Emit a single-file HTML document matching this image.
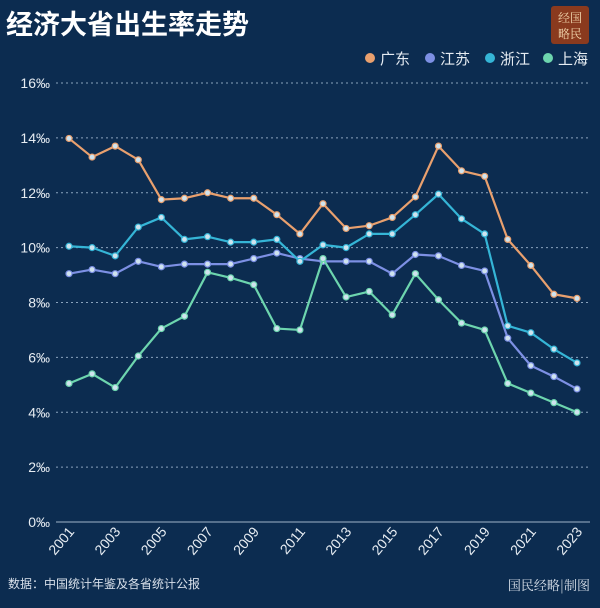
<!DOCTYPE html>
<html><head><meta charset="utf-8"><style>
body{margin:0;width:600px;height:608px;background:#0c2c50;overflow:hidden;font-family:"Liberation Sans","Noto Sans CJK SC",sans-serif;}
</style></head><body>
<svg id="c" width="600" height="608" style="position:absolute;left:0;top:0">
<text x="6" y="34" fill="#fff" font-size="27" font-weight="bold" font-family="Liberation Sans,Noto Sans CJK SC,sans-serif">经济大省出生率走势</text>
<g><rect x="551" y="6" width="38" height="38" rx="3" fill="#8a3a1e"/>
<text x="570" y="22" fill="#f3d9b0" font-size="12" text-anchor="middle" font-family="Noto Serif CJK SC,serif">经国</text>
<text x="570" y="38" fill="#f3d9b0" font-size="12" text-anchor="middle" font-family="Noto Serif CJK SC,serif">略民</text></g>
<g id="legend"></g>
<g id="grid"></g><g id="series"></g><g id="xaxis"></g>
<text x="8" y="588" fill="#d8e0ea" font-size="12">数据：中国统计年鉴及各省统计公报</text>
<text x="590" y="590" fill="#d8e0ea" font-size="13" text-anchor="end" font-family="Noto Serif CJK SC,serif">国民经略|制图</text>
</svg>
<script>
const years=[2001,2002,2003,2004,2005,2006,2007,2008,2009,2010,2011,2012,2013,2014,2015,2016,2017,2018,2019,2020,2021,2022,2023];
const guangdong=[13.98,13.3,13.7,13.2,11.75,11.8,12.0,11.8,11.8,11.2,10.5,11.6,10.7,10.8,11.1,11.85,13.7,12.8,12.6,10.3,9.35,8.3,8.15];
const jiangsu=[9.05,9.2,9.05,9.5,9.3,9.4,9.4,9.4,9.6,9.8,9.6,9.5,9.5,9.5,9.05,9.75,9.7,9.35,9.15,6.7,5.7,5.3,4.85];
const zhejiang=[10.05,10.0,9.7,10.75,11.1,10.3,10.4,10.2,10.2,10.3,9.5,10.1,10.0,10.5,10.5,11.2,11.95,11.05,10.5,7.15,6.9,6.3,5.8];
const shanghai=[5.05,5.4,4.9,6.05,7.05,7.5,9.1,8.9,8.65,7.05,7.0,9.6,8.2,8.4,7.55,9.05,8.1,7.25,7.0,5.05,4.7,4.35,4.0];
const yTicks=[0,2,4,6,8,10,12,14,16];
const seriesNames=["广东","江苏","浙江","上海"];
const colors=["#e9a06e","#7d90e4","#35b5d6","#6dd5ae"];
const NS="http://www.w3.org/2000/svg";
const x=y=>69+(y-2001)*(577-69)/22;
const yv=v=>522-v*(522-83)/16;
function mk(t,a,p){const e=document.createElementNS(NS,t);for(const k in a)e.setAttribute(k,a[k]);p.appendChild(e);return e;}
const grid=document.getElementById('grid');
yTicks.forEach(t=>{
 const l=mk('line',{x1:56,x2:590,y1:yv(t),y2:yv(t),stroke:t===0?'#9fb3c8':'#8aa3bd','stroke-width':1,'stroke-dasharray':t===0?'':'2 3'},grid);
 
 
 const tx=mk('text',{x:50,y:yv(t)+5,fill:'#e6ecf2','font-size':14,'text-anchor':'end'},grid);
 tx.textContent=t+'‰';
 
 
});
const xa=document.getElementById('xaxis');
years.forEach(yr=>{
 if(yr%2===0)return;
 const tx=mk('text',{x:x(yr)+6,y:532,fill:'#e6ecf2','font-size':14,'text-anchor':'end',transform:`rotate(-50 ${x(yr)+6} 532)`},xa);
 tx.textContent=yr;
 
 
});
const data=[guangdong,jiangsu,zhejiang,shanghai];
const sg=document.getElementById('series');
data.forEach((d,i)=>{
 const g=mk('g',{},sg);
 
 
 const pts=d.map((v,j)=>x(years[j])+','+yv(v)).join(' ');
 const pl=mk('polyline',{points:pts,fill:'none',stroke:colors[i],'stroke-width':2.2,'stroke-linejoin':'round'},g);
 
 
 d.forEach((v,j)=>{
  const c=mk('circle',{cx:x(years[j]),cy:yv(v),r:3,fill:'#cfe3ee',stroke:colors[i],'stroke-width':1.2},g);
  
  
 });
});
const lg=document.getElementById('legend');
const lx=[370,430,490,548];
seriesNames.forEach((n,i)=>{
 const c=mk('circle',{cx:lx[i],cy:58,r:5,fill:colors[i]},lg);
 
 
 const t=mk('text',{x:lx[i]+10,y:64,fill:'#e6ecf2','font-size':15},lg);
 t.textContent=n;
 
 
});
</script>
</body></html>
